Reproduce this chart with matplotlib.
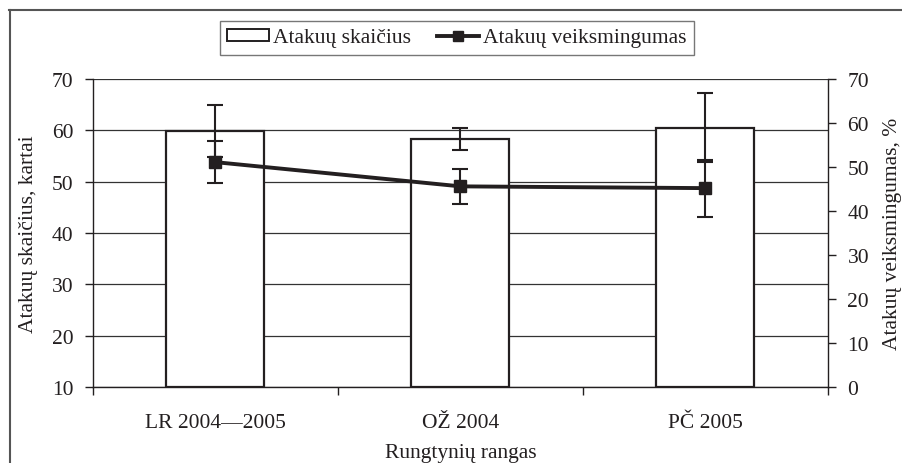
import matplotlib
matplotlib.use("Agg")
import matplotlib.pyplot as plt
from matplotlib.lines import Line2D
from matplotlib.patches import Patch
import numpy as np

categories = ["LR 2004\u20142005", "O\u017d 2004", "P\u010c 2005"]
attacks = [59.9, 58.3, 60.5]
attacks_err = [5.1, 2.1, 6.7]
efficiency = [51.1, 45.6, 45.2]
efficiency_err = [4.7, 3.9, 6.5]
left_ticks = [10, 20, 30, 40, 50, 60, 70]
right_ticks = [0, 10, 20, 30, 40, 50, 60, 70]

plt.rcParams['font.family'] = ['Liberation Serif', 'DejaVu Serif']
FS = 15.5
plt.rcParams['font.size'] = FS
TXT = '#231f20'

fig = plt.figure(figsize=(9.03, 4.64), dpi=100)
ax = fig.add_axes([93/903, 1-388/464, (828-93)/903, (388-80)/464])
ax2 = ax.twinx()

x = np.arange(len(categories))
ax.bar(x, [a - 10 for a in attacks], bottom=10, width=0.4, color='white',
       edgecolor='#231f20', linewidth=1.6, zorder=2)
ax.errorbar(x, attacks, yerr=attacks_err, fmt='none', ecolor='#231f20',
            elinewidth=1.5, capsize=6, capthick=1.5, zorder=3)
ax.set_ylim(10, 70)
ax.set_xlim(-0.5, len(categories) - 0.5)
ax.set_yticks(left_ticks)
ax.yaxis.grid(True, color='#333333', linewidth=0.9)
ax.set_axisbelow(True)
ax.set_xticks(x)
ax.set_xticklabels(categories, color=TXT)
ax.set_xticks([-0.5, 0.5, 1.5, 2.5], minor=True)
ax.tick_params(axis='x', which='major', length=0, pad=19)
ax.tick_params(axis='x', which='minor', length=6, width=1, color='#231f20')
ax.tick_params(axis='y', length=6, width=1, color='#231f20', labelcolor=TXT, pad=8)
ax.set_ylabel("Ataku\u0173 skai\u010dius, kartai", color=TXT, labelpad=10)
fig.text(460.5/903, 1-458/464, "Rungtyni\u0173 rangas", color=TXT, ha='center',
         va='baseline', fontsize=FS)

ax2.errorbar(x, efficiency, yerr=efficiency_err, color='#231f20', linewidth=2.8,
             marker='s', markersize=8, ecolor='#231f20', elinewidth=1.5,
             capsize=6, capthick=1.5, zorder=4)
ax2.set_ylim(0, 70)
ax2.set_yticks(right_ticks)
ax2.tick_params(axis='y', length=6, width=1, color='#231f20', labelcolor=TXT, pad=8)
ax2.set_ylabel("Ataku\u0173 veiksmingumas, %", color=TXT, labelpad=10)

for a in (ax, ax2):
    a.spines['top'].set_visible(False)
for s in ('left', 'right', 'bottom'):
    ax.spines[s].set_color('#231f20')
    ax2.spines[s].set_color('#231f20')
ax.spines['right'].set_visible(False)
ax2.spines['left'].set_visible(False)
ax2.spines['bottom'].set_visible(False)
for s in ('left', 'bottom'):
    ax.spines[s].set_linewidth(1.0)
ax2.spines['right'].set_linewidth(1.0)

handles = [Patch(facecolor='white', edgecolor='#231f20', linewidth=1.4),
           Line2D([], [], color='#231f20', linewidth=2.8, marker='s', markersize=7)]
leg = fig.legend(handles, ["Ataku\u0173 skai\u010dius", "Ataku\u0173 veiksmingumas"],
                 loc='center', bbox_to_anchor=(457/903, 1-39/464), ncol=2,
                 frameon=True, fancybox=False, shadow=False, edgecolor='#555555',
                 handlelength=1.95, handleheight=0.5, handletextpad=0.2,
                 columnspacing=1.2, borderpad=0.35, fontsize=FS)
leg.get_frame().set_linewidth(1.0)
for t in leg.get_texts():
    t.set_color(TXT)

fig.add_artist(Line2D([9/903, 1], [1-10.5/464, 1-10.5/464], transform=fig.transFigure,
                      color='#555555', linewidth=1.5))
fig.add_artist(Line2D([9.7/903, 9.7/903], [0, 1-10.5/464], transform=fig.transFigure,
                      color='#555555', linewidth=1.5))

fig.savefig("out.png", dpi=100)
